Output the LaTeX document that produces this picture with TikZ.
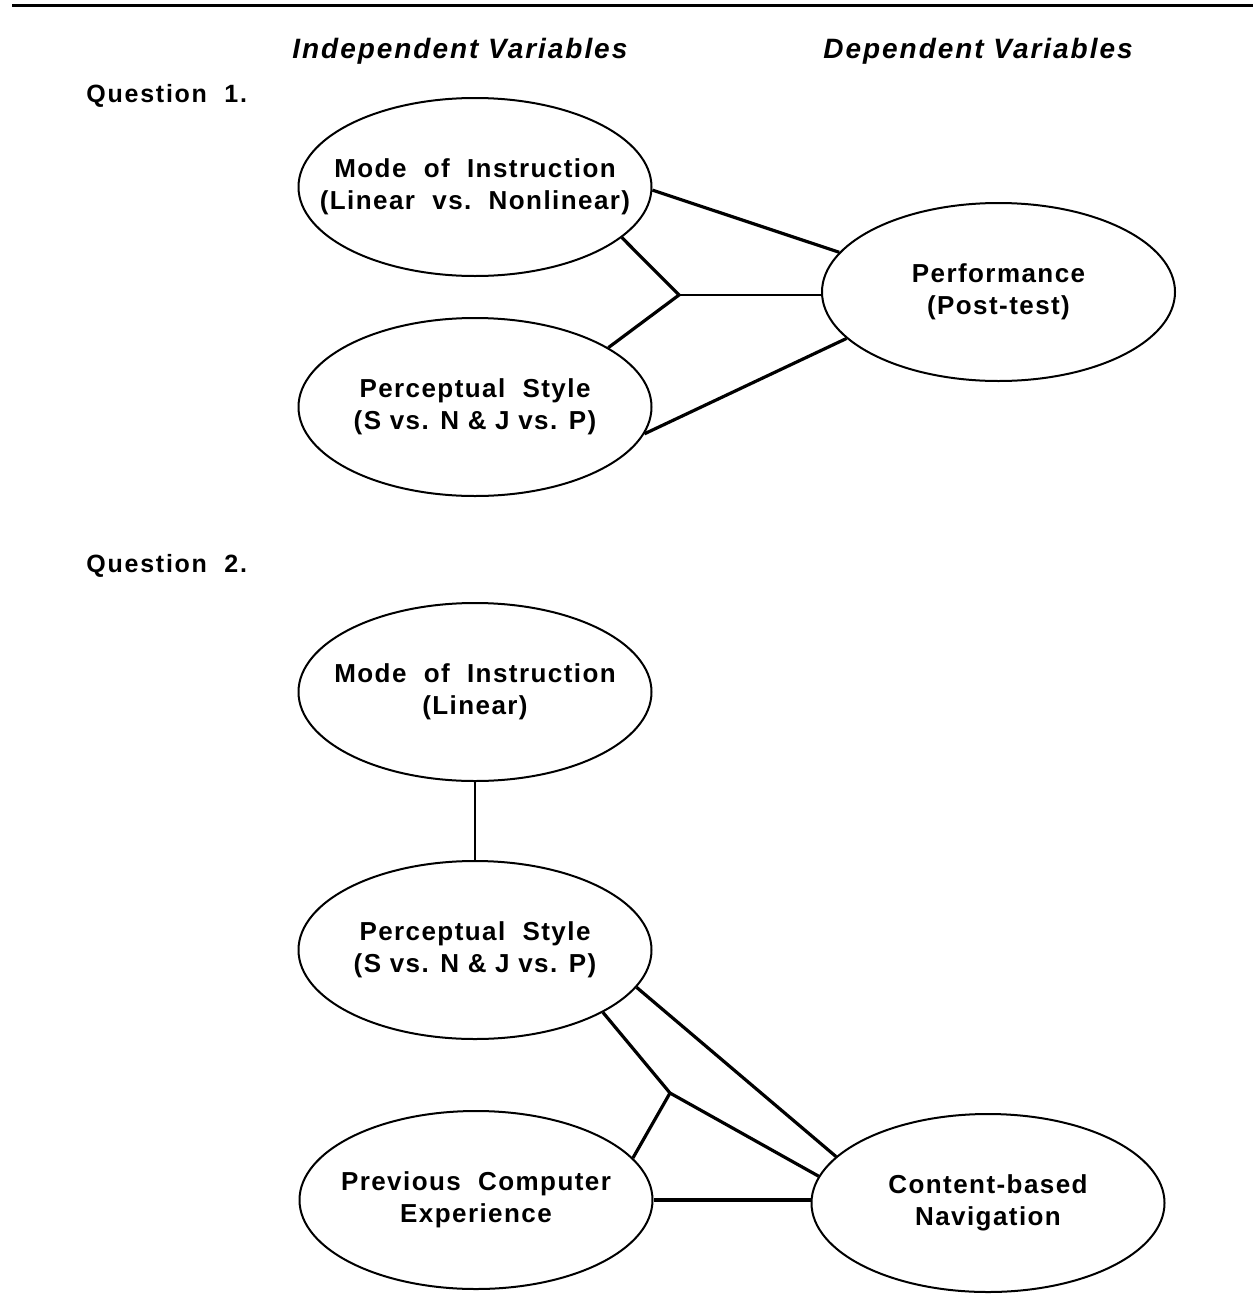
\documentclass[tikz,border=0pt]{standalone}
\usepackage{fontspec}
\setmainfont{Liberation Sans}
\newfontfamily\lblfont[LetterSpace=5.5]{Liberation Sans}
\newfontfamily\qfont[LetterSpace=7]{Liberation Sans}
\newfontfamily\headfont[LetterSpace=7]{Liberation Sans}
\usetikzlibrary{shapes.geometric,calc}
\tikzset{
  ell/.style={draw, line width=1pt, ellipse, minimum width=176.5pt, minimum height=89pt, inner sep=0pt},
  lbl/.style={font=\lblfont\bfseries\fontsize{13}{16}\selectfont, align=center, inner sep=0pt},
  head/.style={font=\headfont\bfseries\itshape\fontsize{14}{16}\selectfont, inner sep=0pt, anchor=base west},
  qlbl/.style={font=\qfont\bfseries\fontsize{12.5}{14}\selectfont, inner sep=0pt, anchor=base west},
  conn/.style={line width=1.6pt},
  connthin/.style={line width=1.1pt},
}
\begin{document}
\begin{tikzpicture}[x=0.5pt,y=-0.5pt]
\useasboundingbox (0,0) rectangle (1253,1306);
\draw[line width=1.4pt] (12,5.5) -- (1253,5.5);

\node[head] (indep) at (292,58) {Independent Variables};
\node[head] (dep) at (823,58) {Dependent Variables};
\node[qlbl] (q1) at (86,102) {Question\ \ 1.};
\node[qlbl] (q2) at (86,572) {Question\ \ 2.};

% Question 1
\node[ell, label={[lbl,name=mAt]center:Mode\ \ of\ \ Instruction\\(Linear\ \ vs.\ \ Nonlinear)}] (mA) at (475,187) {};
\node[ell, label={[lbl,name=pAt]center:Perceptual\ \ Style\\(S vs. N \& J vs. P)}] (pA) at (475,407) {};
\node[ell, label={[lbl,name=perft]center:Performance\\(Post-test)}] (perf) at (998.5,292) {};
\coordinate (j1) at (679,295);
\draw[conn] (mA.-1) -- (perf.166);
\draw[conn] (mA.-19) -- (j1) -- (pA.24);
\draw[connthin] (j1) -- (j1 -| perf.west);
\draw[conn] (pA.-9) -- (perf.197);

% Question 2
\node[ell, label={[lbl,name=mBt]center:Mode\ \ of\ \ Instruction\\(Linear)}] (mB) at (475,692) {};
\node[ell, label={[lbl,name=pBt]center:Perceptual\ \ Style\\(S vs. N \& J vs. P)}] (pB) at (475,950) {};
\node[ell, label={[lbl,name=prevt]center:Previous\ \ Computer\\Experience}] (prev) at (476,1200) {};
\node[ell, label={[lbl,name=navt]center:Content-based\\Navigation}] (nav) at (988,1203) {};
\coordinate (j2) at (670,1093);
\draw[connthin] (mB.south) -- (pB.north);
\draw[conn] (pB.-13) -- (nav.163);
\draw[conn] (pB.-26) -- (j2) -- (nav.171);
\draw[conn] (j2) -- (prev.15);
\draw[conn] (prev.east) -- (prev.east -| nav.west);
\end{tikzpicture}
\end{document}
